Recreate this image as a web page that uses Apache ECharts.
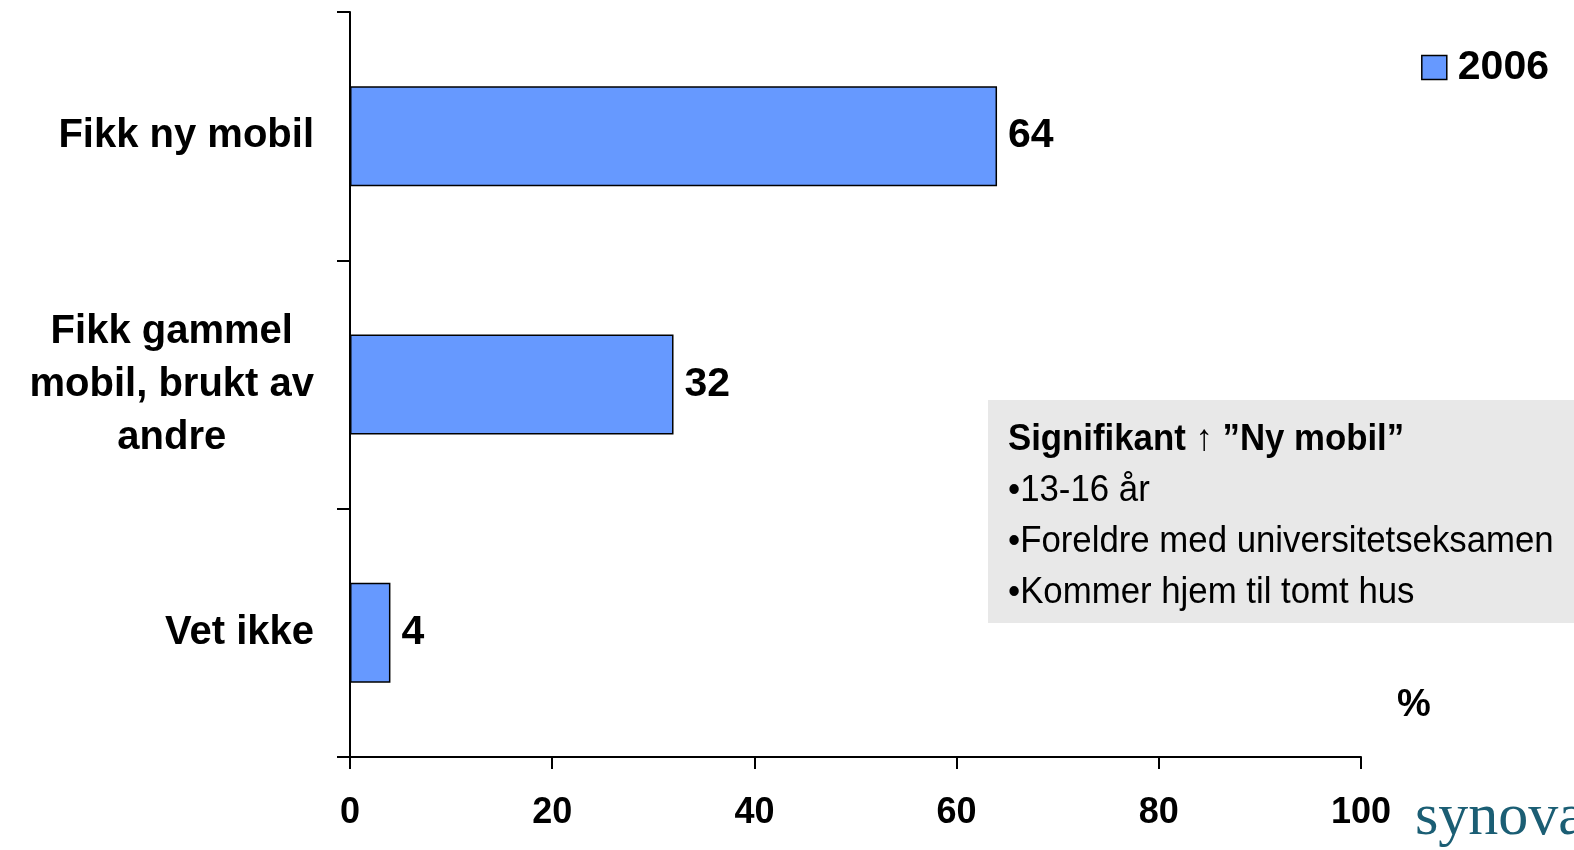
<!DOCTYPE html>
<html><head><meta charset="utf-8">
<script src="https://cdn.jsdelivr.net/npm/echarts@6/dist/echarts.min.js"></script>
<style>html,body{margin:0;padding:0;background:#fff}#c{width:1574px;height:850px}</style>
</head><body><div id="c"></div>
<script>
const categories = ['Fikk ny mobil', 'Fikk gammel\nmobil, brukt av\nandre', 'Vet ikke'];
const values2006 = [64, 32, 4];
const seriesName = '2006';
const xTicks = [0, 20, 40, 60, 80, 100];
const noteTitle = 'Signifikant \u2191 \u201dNy mobil\u201d';
const noteLines = ['\u202213-16 år', '\u2022Foreldre med universitetseksamen', '\u2022Kommer hjem til tomt hus'];

const chart = echarts.init(document.getElementById('c'));
const bold = 'Liberation Sans, Arial, sans-serif';
const narrowScale = 0.94;

const noteGraphics = [
  {type: 'rect', left: 988, top: 400, shape: {width: 586, height: 223}, style: {fill: '#E8E8E8'}, silent: true},
  {type: 'text', x: 1008, y: 440, scaleX: narrowScale,
   style: {x: 0, y: 0, text: noteTitle, font: 'bold 37px ' + bold, fill: '#000', verticalAlign: 'middle'}}
];
noteLines.forEach((t, i) => noteGraphics.push({
  type: 'text', x: 1008, y: 491 + i * 51, scaleX: narrowScale,
  style: {x: 0, y: 0, text: t, font: '37px ' + bold, fill: '#000', verticalAlign: 'middle'}
}));

chart.setOption({
  animation: false,
  backgroundColor: '#fff',
  grid: {left: 350, right: 213, top: 12, bottom: 93, containLabel: false},
  legend: {
    data: [seriesName], right: 20, top: 42, icon: 'rect', itemWidth: 25, itemHeight: 24,
    textStyle: {fontFamily: bold, fontWeight: 'bold', fontSize: 41, color: '#000', padding: [0, 0, 0, 6]},
    itemStyle: {borderColor: '#000', borderWidth: 1.5}
  },
  xAxis: {
    type: 'value', min: xTicks[0], max: xTicks[xTicks.length - 1], interval: 20,
    axisLine: {show: true, lineStyle: {color: '#000', width: 2}},
    axisTick: {show: true, length: 12, lineStyle: {color: '#000', width: 2}},
    splitLine: {show: false},
    axisLabel: {margin: 38, fontFamily: bold, fontWeight: 'bold', fontSize: 36, color: '#000'}
  },
  yAxis: {
    type: 'category', data: categories, inverse: true,
    axisLine: {show: true, lineStyle: {color: '#000', width: 2}},
    axisTick: {show: true, length: 13, alignWithLabel: false, lineStyle: {color: '#000', width: 2}},
    axisLabel: {
      margin: 36, color: '#000',
      formatter: v => v.split('\n').map(l => '{c|' + l + '}').join('\n'),
      rich: {c: {align: 'center', fontFamily: bold, fontWeight: 'bold', fontSize: 40, lineHeight: 53, color: '#000'}}
    }
  },
  series: [{
    name: seriesName, type: 'bar', data: values2006, barWidth: 100,
    itemStyle: {color: '#6699FF', borderColor: '#000', borderWidth: 1.5},
    label: {show: true, position: 'right', distance: 11, fontFamily: bold, fontWeight: 'bold', fontSize: 41, color: '#000'}
  }],
  graphic: noteGraphics.concat([
    {type: 'text', x: 1397, y: 706, style: {x: 0, y: 0, text: '%', font: 'bold 38px ' + bold, fill: '#000', verticalAlign: 'middle'}},
    {type: 'text', x: 1415, y: 818, style: {x: 0, y: 0, text: 'synova', font: '60px "Liberation Serif", "DejaVu Serif", serif', fill: '#1B5E74', verticalAlign: 'middle'}}
  ])
});
</script></body></html>
